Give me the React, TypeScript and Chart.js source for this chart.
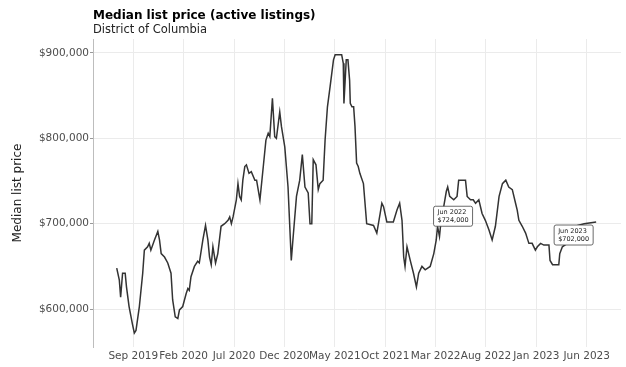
import React, { useEffect, useRef } from "react";
import { Chart, registerables } from "chart.js";
Chart.register(...registerables);

const TITLE = "Median list price (active listings)";
const SUBTITLE = "District of Columbia";
const Y_TITLE = "Median list price";

const tickDates = ["2019-09-01","2020-02-01","2020-07-01","2020-12-01","2021-05-01","2021-10-01","2022-03-01","2022-08-01","2023-01-01","2023-06-01"];
const tickLabels = ["Sep 2019","Feb 2020","Jul 2020","Dec 2020","May 2021","Oct 2021","Mar 2022","Aug 2022","Jan 2023","Jun 2023"];
const yTicks = [600000, 700000, 800000, 900000];

const dates = [
"2019-07-12","2019-07-20","2019-07-24","2019-07-30","2019-08-07","2019-08-11","2019-08-19","2019-08-29",
"2019-09-04","2019-09-09","2019-09-19","2019-09-29","2019-10-04","2019-10-14","2019-10-19","2019-10-24",
"2019-11-04","2019-11-14","2019-11-19","2019-11-24","2019-12-04","2019-12-14","2019-12-24","2019-12-29",
"2020-01-06","2020-01-14","2020-01-19","2020-01-29","2020-02-08","2020-02-13","2020-02-17","2020-02-22",
"2020-03-03","2020-03-13","2020-03-18","2020-03-29","2020-04-06","2020-04-13","2020-04-18","2020-04-23",
"2020-04-28","2020-05-06","2020-05-13","2020-05-23","2020-06-03","2020-06-13","2020-06-18","2020-06-23",
"2020-06-28","2020-07-08","2020-07-13","2020-07-18","2020-07-23","2020-07-28","2020-08-03","2020-08-08",
"2020-08-16","2020-08-23","2020-09-03","2020-09-08","2020-09-18","2020-09-28","2020-10-06","2020-10-13",
"2020-10-18","2020-10-26","2020-11-02","2020-11-07","2020-11-17","2020-11-22","2020-12-02","2020-12-12",
"2020-12-17","2020-12-22","2020-12-27","2021-01-07","2021-01-17","2021-01-25","2021-02-02","2021-02-11",
"2021-02-16","2021-02-21","2021-02-25","2021-03-05","2021-03-12","2021-03-17","2021-03-27","2021-04-02",
"2021-04-09","2021-04-17","2021-04-27","2021-05-02","2021-05-12","2021-05-22","2021-05-27","2021-05-29",
"2021-06-05","2021-06-10","2021-06-15","2021-06-17","2021-06-22","2021-06-27","2021-07-01","2021-07-06",
"2021-07-11","2021-07-16","2021-07-27","2021-08-06","2021-08-27","2021-09-06","2021-09-16","2021-09-21",
"2021-09-26","2021-10-06","2021-10-26","2021-11-06","2021-11-14","2021-11-21","2021-11-26","2021-11-30",
"2021-12-06","2021-12-16","2021-12-26","2022-01-04","2022-01-11","2022-01-21","2022-01-31","2022-02-14",
"2022-02-24","2022-03-03","2022-03-07","2022-03-13","2022-03-20","2022-03-26","2022-04-03","2022-04-07",
"2022-04-13","2022-04-25","2022-05-05","2022-05-10","2022-05-31","2022-06-05","2022-06-15","2022-06-23",
"2022-06-30","2022-07-10","2022-07-20","2022-07-30","2022-08-10","2022-08-20","2022-08-30","2022-09-10",
"2022-09-20","2022-09-30","2022-10-09","2022-10-20","2022-10-30","2022-11-04","2022-11-09","2022-11-19",
"2022-11-29","2022-12-09","2022-12-19","2022-12-29","2023-01-04","2023-01-14","2023-01-24","2023-02-08",
"2023-02-11","2023-02-18","2023-03-08","2023-03-11","2023-03-19","2023-04-03","2023-04-13","2023-04-24",
"2023-05-24","2023-06-29"
];

const values = [
648000,634000,614000,642000,642000,626000,603000,583000,
572000,575000,603000,642000,669000,673000,677000,669000,
681000,691000,681000,665000,661000,654000,642000,611000,
591000,589000,599000,603000,618000,624000,622000,638000,
650000,656000,654000,681000,698000,681000,661000,652000,
673000,654000,665000,697000,700000,704000,708000,700000,
708000,728000,747000,732000,728000,751000,767000,769000,
759000,761000,751000,751000,728000,767000,798000,806000,
802000,847000,802000,800000,831000,814000,790000,743000,
700000,657000,681000,732000,751000,781000,743000,736000,
700000,700000,775000,769000,740000,747000,751000,798000,
837000,861000,892000,898000,898000,898000,888000,841000,
892000,892000,868000,841000,837000,837000,814000,771000,
767000,759000,747000,700000,698000,689000,712000,724000,
720000,702000,702000,716000,724000,704000,661000,650000,
673000,657000,642000,626000,642000,650000,646000,650000,
665000,681000,697000,685000,712000,720000,738000,743000,
732000,728000,732000,751000,751000,732000,728000,728000,
724000,728000,712000,704000,693000,681000,697000,732000,
747000,751000,743000,740000,724000,716000,704000,697000,
689000,677000,677000,669000,673000,677000,675000,675000,
657000,652000,652000,665000,673000,677000,681000,697000,
700000,702000
];

const labelDates = ["2022-06-30", "2023-06-29"];
const MONTHS = ["Jan","Feb","Mar","Apr","May","Jun","Jul","Aug","Sep","Oct","Nov","Dec"];

function dateToMonths(s: string): number {
  const [y, m, d] = s.split("-").map(Number);
  const dim = new Date(y, m, 0).getDate();
  return (y - 2019) * 12 + (m - 9) + (d - 1) / dim;
}
function fmtMoney(v: number): string {
  return "$" + Math.round(v).toString().replace(/\B(?=(\d{3})+(?!\d))/g, ",");
}
function fmtDate(s: string): string {
  const [y, m] = s.split("-").map(Number);
  return MONTHS[m - 1] + " " + y;
}

const tickValues = tickDates.map(dateToMonths);

const overlayPlugin = {
  id: "overlay",
  afterDatasetsDraw(chart: any) {
    const ctx = chart.ctx;
    const xs = chart.scales.x;
    const ys = chart.scales.y;
    ctx.save();
    ctx.font = "6.5px 'DejaVu Sans'";
    labelDates.forEach((ld) => {
      const i = dates.indexOf(ld);
      if (i < 0) return;
      const px = xs.getPixelForValue(dateToMonths(ld));
      const py = ys.getPixelForValue(values[i]);
      const l1 = fmtDate(ld);
      const l2 = fmtMoney(values[i]);
      const w = Math.max(ctx.measureText(l1).width, ctx.measureText(l2).width) + 8;
      const h = 20;
      const right = px - 3;
      const top = py + 3;
      const left = right - w;
      ctx.beginPath();
      if ((ctx as any).roundRect) (ctx as any).roundRect(left, top, w, h, 2);
      else ctx.rect(left, top, w, h);
      ctx.fillStyle = "#ffffff";
      ctx.fill();
      ctx.lineWidth = 0.8;
      ctx.strokeStyle = "#444";
      ctx.stroke();
      ctx.fillStyle = "#222";
      ctx.textAlign = "left";
      ctx.textBaseline = "middle";
      ctx.fillText(l1, left + 4, top + 6);
      ctx.fillText(l2, left + 4, top + 14.5);
    });
    ctx.restore();
  },
  afterDraw(chart: any) {
    const ctx = chart.ctx;
    ctx.save();
    ctx.fillStyle = "#000";
    ctx.textAlign = "left";
    ctx.textBaseline = "alphabetic";
    ctx.font = "bold 12px 'DejaVu Sans'";
    ctx.fillText(TITLE, 93, 19);
    ctx.fillStyle = "#222";
    ctx.font = "11.5px 'DejaVu Sans'";
    ctx.fillText(SUBTITLE, 93, 33);
    ctx.restore();
  },
};

export default function App() {
  const ref = useRef<HTMLCanvasElement>(null);
  useEffect(() => {
    if (!ref.current) return;
    const chart = new Chart(ref.current, {
      type: "line",
      data: {
        datasets: [
          {
            data: dates.map((d, i) => ({ x: dateToMonths(d), y: values[i] })),
            borderColor: "#333333",
            borderWidth: 1.5,
            pointRadius: 0,
            tension: 0,
            fill: false,
          },
        ],
      },
      options: {
        animation: false,
        responsive: true,
        maintainAspectRatio: false,
        layout: { padding: { left: 0, top: 39, right: 5, bottom: 0 } },
        plugins: { legend: { display: false }, tooltip: { enabled: false }, title: { display: false } },
        scales: {
          x: {
            type: "linear",
            min: -4.0,
            max: 48.4,
            afterFit: (s: any) => { s.height = 20; },
            afterBuildTicks: (s: any) => { s.ticks = tickValues.map((v) => ({ value: v })); },
            ticks: {
              autoSkip: false,
              maxRotation: 0,
              padding: 3,
              color: "#4d4d4d",
              font: { family: "'DejaVu Sans'", size: 10.5 },
              callback: (v: any) => {
                const idx = tickValues.findIndex((t) => Math.abs(t - v) < 1e-6);
                return idx >= 0 ? tickLabels[idx] : "";
              },
            },
            grid: { color: "#ebebeb", lineWidth: 1, drawTicks: false },
            border: { display: false },
          },
          y: {
            type: "linear",
            min: 555600,
            max: 916400,
            afterFit: (s: any) => { s.width = 93; },
            afterBuildTicks: (s: any) => { s.ticks = yTicks.map((v) => ({ value: v })); },
            ticks: {
              padding: 1,
              color: "#4d4d4d",
              font: { family: "'DejaVu Sans'", size: 10.5 },
              callback: (v: any) => fmtMoney(Number(v)),
            },
            grid: { color: "#ebebeb", lineWidth: 1, tickLength: 3, tickColor: "#999" },
            border: { display: true, color: "#bdbdbd", width: 1 },
            title: {
              display: true,
              text: Y_TITLE,
              color: "#222",
              font: { family: "'DejaVu Sans'", size: 12 },
              padding: { top: 11, bottom: 0 },
            },
          },
        },
      },
      plugins: [overlayPlugin],
    });
    return () => chart.destroy();
  }, []);
  return (
    <div style={{ position: "fixed", left: 0, top: 0, width: 626, height: 367, background: "#fff" }}>
      <canvas ref={ref} />
    </div>
  );
}
